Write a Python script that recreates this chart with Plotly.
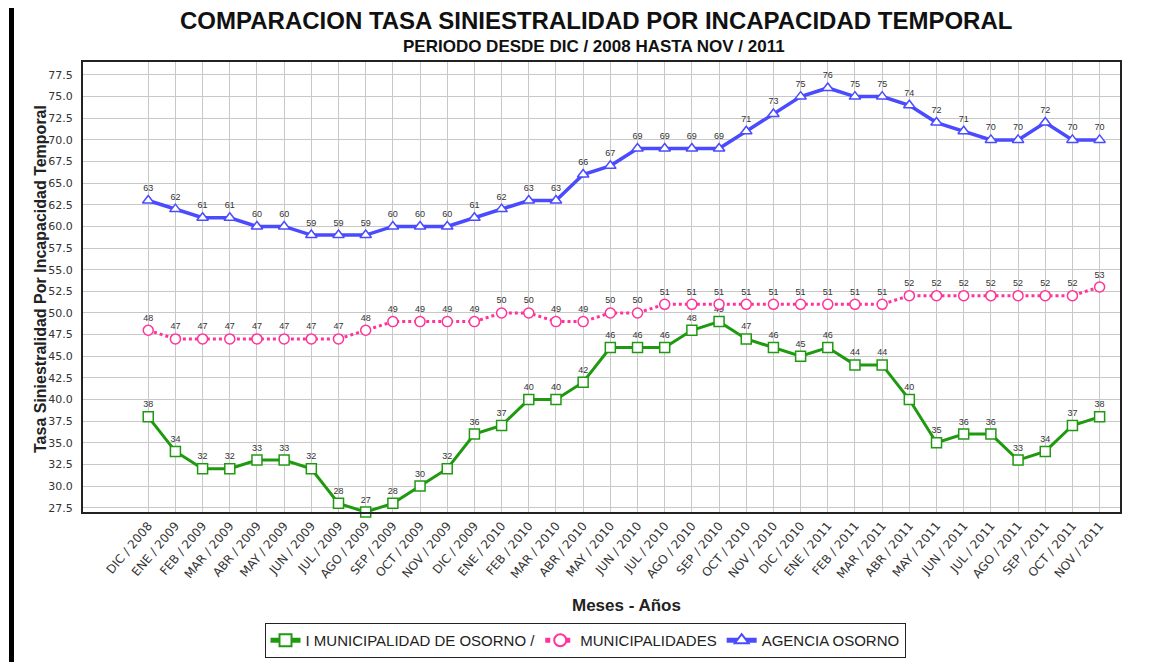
import plotly.graph_objects as go

months = ["DIC / 2008", "ENE / 2009", "FEB / 2009", "MAR / 2009", "ABR / 2009", "MAY / 2009",
          "JUN / 2009", "JUL / 2009", "AGO / 2009", "SEP / 2009", "OCT / 2009", "NOV / 2009",
          "DIC / 2009", "ENE / 2010", "FEB / 2010", "MAR / 2010", "ABR / 2010", "MAY / 2010",
          "JUN / 2010", "JUL / 2010", "AGO / 2010", "SEP / 2010", "OCT / 2010", "NOV / 2010",
          "DIC / 2010", "ENE / 2011", "FEB / 2011", "MAR / 2011", "ABR / 2011", "MAY / 2011",
          "JUN / 2011", "JUL / 2011", "AGO / 2011", "SEP / 2011", "OCT / 2011", "NOV / 2011"]

muni_osorno = [38, 34, 32, 32, 33, 33, 32, 28, 27, 28, 30, 32,
               36, 37, 40, 40, 42, 46, 46, 46, 48, 49, 47, 46,
               45, 46, 44, 44, 40, 35, 36, 36, 33, 34, 37, 38]
municipalidades = [48, 47, 47, 47, 47, 47, 47, 47, 48, 49, 49, 49,
                   49, 50, 50, 49, 49, 50, 50, 51, 51, 51, 51, 51,
                   51, 51, 51, 51, 52, 52, 52, 52, 52, 52, 52, 53]
agencia = [63, 62, 61, 61, 60, 60, 59, 59, 59, 60, 60, 60,
           61, 62, 63, 63, 66, 67, 69, 69, 69, 69, 71, 73,
           75, 76, 75, 75, 74, 72, 71, 70, 70, 72, 70, 70]

y_ticks = [27.5 + 2.5 * i for i in range(21)]

FONT = "Liberation Sans, Arial, sans-serif"
TFONT = "DejaVu Sans, Verdana, sans-serif"
x_idx = list(range(len(months)))

# plot area in page pixels (page has 8px body margin)
PX0, PX1, PY0, PY1 = 83, 1120, 62, 512
PW, PH = PX1 - PX0, PY1 - PY0
FIG_W, FIG_H = 1156, 654


def px(x):
    return (x - PX0) / PW


def py(y):
    return (PY1 - y) / PH


fig = go.Figure()

fig.add_trace(go.Scatter(
    x=x_idx, y=muni_osorno, name="I MUNICIPALIDAD DE OSORNO /",
    mode="lines+markers+text", text=[str(v) for v in muni_osorno],
    textposition="top center", textfont=dict(size=9, color="#333333", family=FONT),
    line=dict(color="#1f9a10", width=3),
    marker=dict(symbol="square", size=10, color="white", line=dict(color="#1f9a10", width=1.5)),
    cliponaxis=False,
))
fig.add_trace(go.Scatter(
    x=x_idx, y=municipalidades, name="MUNICIPALIDADES",
    mode="lines+markers+text", text=[str(v) for v in municipalidades],
    textposition="top center", textfont=dict(size=9, color="#333333", family=FONT),
    line=dict(color="#ff3399", width=3, dash="dot"),
    marker=dict(symbol="circle", size=10, color="white", line=dict(color="#ff3399", width=1.5)),
    cliponaxis=False,
))
fig.add_trace(go.Scatter(
    x=x_idx, y=agencia, name="AGENCIA OSORNO",
    mode="lines+markers+text", text=[str(v) for v in agencia],
    textposition="top center", textfont=dict(size=9, color="#333333", family=FONT),
    line=dict(color="#4a4aff", width=3.5),
    marker=dict(symbol="triangle-up", size=10, color="white", line=dict(color="#4a4aff", width=1.5)),
    cliponaxis=False,
))

fig.update_layout(
    width=FIG_W, height=FIG_H,
    paper_bgcolor="white", plot_bgcolor="white",
    margin=dict(l=PX0 - 8, r=FIG_W + 8 - PX1, t=PY0 - 8, b=FIG_H + 8 - PY1, autoexpand=False),
    font=dict(family=FONT, color="#222222"),
    showlegend=True,
    legend=dict(
        orientation="h", x=px(585), xanchor="center", y=py(623), yanchor="top",
        bordercolor="#222222", borderwidth=1, bgcolor="white",
        font=dict(size=15, color="#222222", family=FONT),
        itemsizing="constant", traceorder="normal", itemwidth=30,
    ),
    xaxis=dict(
        range=[-2.4, 35.75], tickmode="array", tickvals=x_idx, ticktext=months,
        tickangle=-50, tickfont=dict(size=12, color="#333333", family=TFONT),
        showgrid=True, gridcolor="#c8c8c8", gridwidth=1,
        showline=True, linecolor="#222222", linewidth=2, mirror=True,
        zeroline=False, ticks="", automargin=False,
    ),
    yaxis=dict(
        range=[27.0, 79.0], tickmode="array", tickvals=y_ticks,
        ticktext=[f"{v:.1f}" for v in y_ticks],
        tickfont=dict(size=11, color="#333333", family=TFONT),
        ticklabelstandoff=6,
        showgrid=True, gridcolor="#c8c8c8", gridwidth=1,
        showline=True, linecolor="#222222", linewidth=2, mirror=True,
        zeroline=False, ticks="", automargin=False,
    ),
    annotations=[
        dict(text="<b>COMPARACION TASA SINIESTRALIDAD POR INCAPACIDAD TEMPORAL</b>",
             x=px(596), xref="paper", y=py(21), yref="paper", showarrow=False,
             font=dict(size=24, color="#111111"), xanchor="center", yanchor="middle"),
        dict(text="<b>PERIODO DESDE DIC / 2008 HASTA NOV / 2011</b>",
             x=px(594), xref="paper", y=py(46), yref="paper", showarrow=False,
             font=dict(size=17, color="#111111"), xanchor="center", yanchor="middle"),
        dict(text="<b>Meses - Años</b>", x=px(626), xref="paper", y=py(605), yref="paper",
             showarrow=False, font=dict(size=17, color="#222222"), xanchor="center", yanchor="middle"),
        dict(text="<b>Tasa Siniestralidad Por Incapacidad Temporal</b>", x=px(40), xref="paper",
             y=py(279), yref="paper", textangle=-90,
             showarrow=False, font=dict(size=16, color="#222222"), xanchor="center", yanchor="middle"),
    ],
    shapes=[
        dict(type="rect", xref="paper", yref="paper",
             x0=px(9), x1=px(14), y0=py(670), y1=py(0),
             fillcolor="black", line=dict(width=0)),
    ],
)

fig.write_html("out.html")
